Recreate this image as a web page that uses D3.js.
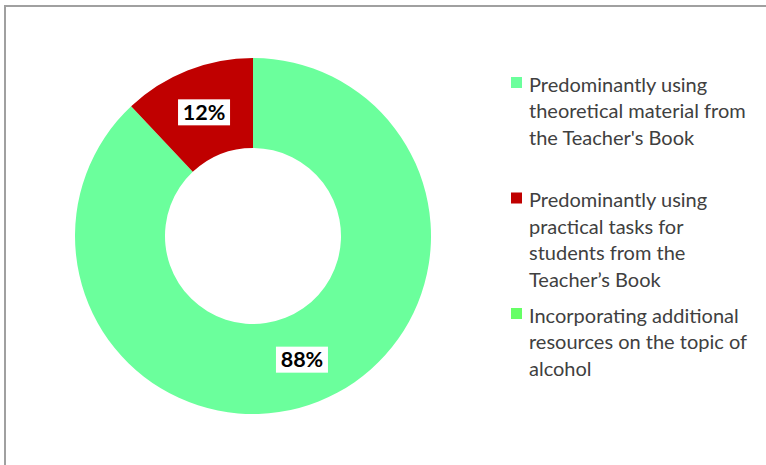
<!DOCTYPE html>
<html>
<head>
<meta charset="utf-8">
<script src="https://d3js.org/d3.v7.min.js"></script>
<style>
  html, body { margin: 0; padding: 0; background: #fff; }
  svg { display: block; }
</style>
</head>
<body>
<svg id="chart" width="766" height="465"></svg>
<script>
// Data
const categories = [
  "Predominantly using theoretical material from the Teacher's Book",
  "Predominantly using practical tasks for students from the Teacher\u2019s Book",
  "Incorporating additional resources on the topic of alcohol"
];
const legendLines = [
  ["Predominantly using", "theoretical material from", "the Teacher's Book"],
  ["Predominantly using", "practical tasks for", "students from the", "Teacher\u2019s Book"],
  ["Incorporating additional", "resources on the topic of", "alcohol"]
];
const values = [88, 12, 0];
const colors = ["#6bff9c", "#c00000", "#66ff66"];

const svg = d3.select("#chart");
const FONT = "Lato, 'Open Sans', sans-serif";

// frame
svg.append("rect")
  .attr("x", 5).attr("y", 6).attr("width", 900).attr("height", 600)
  .attr("fill", "none").attr("stroke", "#a0a0a0").attr("stroke-width", 2);

const cx = 253, cy = 236, rOuter = 178, rInner = 88;

const pie = d3.pie().sort(null).value(d => d)
  .startAngle(0).endAngle(2 * Math.PI);
const arcs = pie(values);
const arc = d3.arc().innerRadius(rInner).outerRadius(rOuter);

const g = svg.append("g").attr("transform", `translate(${cx},${cy})`);
g.selectAll("path.slice")
  .data(arcs.filter(d => d.value > 0))
  .join("path")
  .attr("class", "slice")
  .attr("d", arc)
  .attr("fill", d => colors[d.index]);

// labels
const lab = g.selectAll("g.lab")
  .data(arcs.filter(d => d.value > 0))
  .join("g")
  .attr("class", "lab")
  .attr("transform", d => { const c = arc.centroid(d); return `translate(${c[0]},${c[1]})`; });
lab.append("rect")
  .attr("x", -26).attr("y", -13).attr("width", 52).attr("height", 26)
  .attr("fill", "#fff");
lab.append("text")
  .attr("text-anchor", "middle")
  .attr("dy", "0.36em")
  .attr("font-family", FONT)
  .attr("font-weight", "bold")
  .attr("font-size", 21.5)
  .attr("fill", "#000")
  .text(d => d.value + "%");

// legend
const legX = 511, legY0 = 77, slot = 115.5, lineH = 26.6;
const leg = svg.append("g");
const items = leg.selectAll("g.item")
  .data(categories)
  .join("g")
  .attr("class", "item")
  .attr("transform", (d, i) => `translate(${legX},${legY0 + i * slot})`);
items.append("rect")
  .attr("width", 11).attr("height", 11)
  .attr("fill", (d, i) => colors[i]);
items.each(function(d, i) {
  const t = d3.select(this).append("text")
    .attr("x", 18).attr("y", 14.5)
    .attr("font-family", FONT)
    .attr("font-size", 20)
    .attr("fill", "#404040");
  legendLines[i].forEach((ln, k) => {
    t.append("tspan").attr("x", 18).attr("y", 14.5 + k * lineH).text(ln);
  });
});
</script>
</body>
</html>
